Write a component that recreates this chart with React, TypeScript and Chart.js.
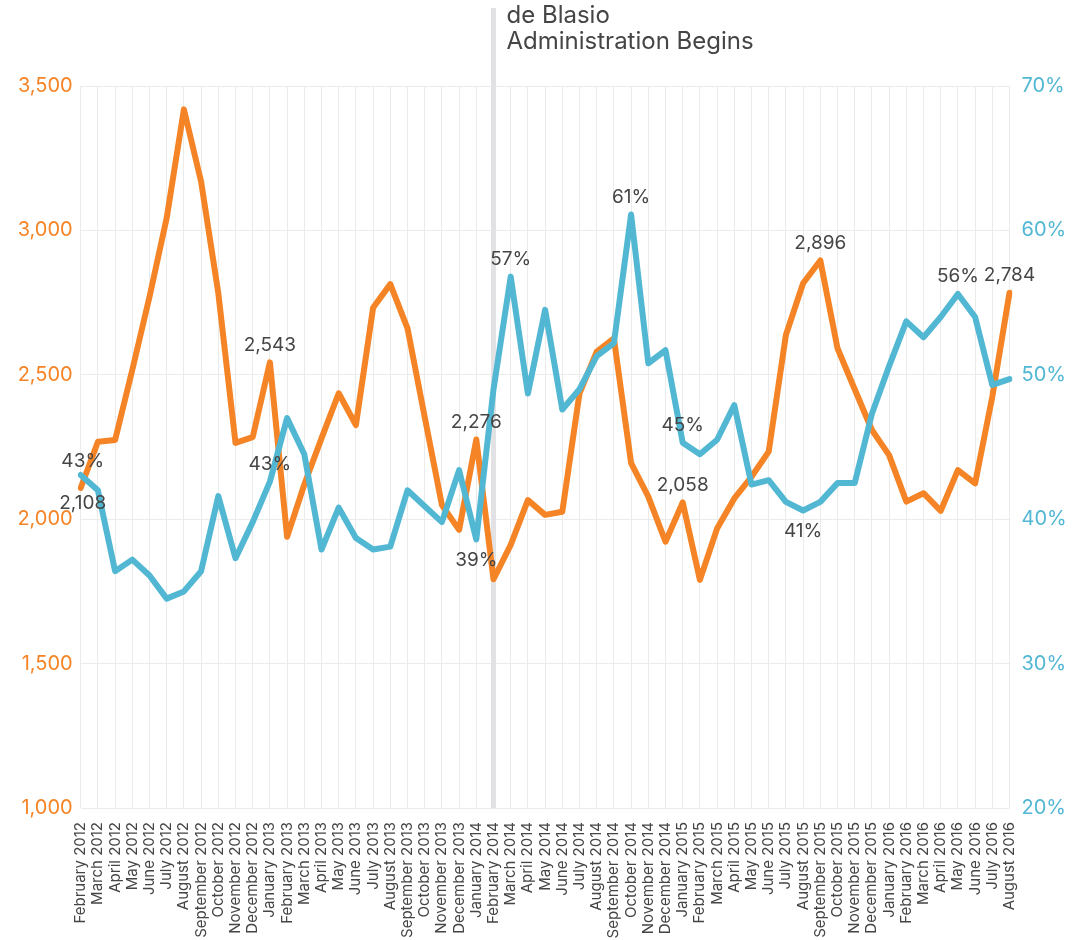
import React, { useEffect, useRef } from "react";
import { Chart, registerables } from "chart.js";

Chart.register(...registerables);

const months = [
  "February 2012", "March 2012", "April 2012", "May 2012", "June 2012", "July 2012",
  "August 2012", "September 2012", "October 2012", "November 2012", "December 2012",
  "January 2013", "February 2013", "March 2013", "April 2013", "May 2013", "June 2013",
  "July 2013", "August 2013", "September 2013", "October 2013", "November 2013", "December 2013",
  "January 2014", "February 2014", "March 2014", "April 2014", "May 2014", "June 2014",
  "July 2014", "August 2014", "September 2014", "October 2014", "November 2014", "December 2014",
  "January 2015", "February 2015", "March 2015", "April 2015", "May 2015", "June 2015",
  "July 2015", "August 2015", "September 2015", "October 2015", "November 2015", "December 2015",
  "January 2016", "February 2016", "March 2016", "April 2016", "May 2016", "June 2016",
  "July 2016", "August 2016",
];

// orange series (left axis)
const counts = [
  2108, 2268, 2274, 2517, 2770, 3043, 3419, 3169, 2783, 2264, 2284,
  2543, 1939, 2120, 2280, 2436, 2326, 2732, 2814, 2661, 2354, 2049, 1963,
  2276, 1792, 1911, 2066, 2015, 2026, 2436, 2580, 2626, 2194, 2078, 1922,
  2058, 1790, 1968, 2072, 2147, 2234, 2638, 2817, 2896, 2592, 2450, 2309,
  2222, 2061, 2090, 2029, 2170, 2124, 2424, 2784,
];

// blue series (right axis, %)
const rates = [
  43.06, 42.0, 36.4, 37.2, 36.1, 34.5, 35.0, 36.4, 41.6, 37.3, 39.8,
  42.6, 47.0, 44.5, 37.9, 40.8, 38.7, 37.9, 38.1, 42.0, 40.9, 39.8, 43.4,
  38.6, 49.0, 56.8, 48.7, 54.5, 47.6, 49.0, 51.3, 52.2, 61.1, 50.8, 51.7,
  45.3, 44.5, 45.5, 47.9, 42.4, 42.7, 41.2, 40.6, 41.2, 42.5, 42.5, 47.3,
  50.6, 53.7, 52.6, 54.0, 55.6, 54.0, 49.3, 49.7,
];

const leftMin = 1000;
const leftMax = 3500;
const leftStep = 500;
const rightMin = 20;
const rightMax = 70;
const rightStep = 10;

// annotated points: [index, placement]
const countLabels: [number, "above" | "below"][] = [
  [0, "below"], [11, "above"], [23, "above"], [35, "above"], [43, "above"], [54, "above"],
];
const rateLabels: [number, "above" | "below"][] = [
  [0, "above"], [11, "above"], [23, "below"], [25, "above"], [32, "above"],
  [35, "above"], [42, "below"], [51, "above"],
];

const eventIndex = 24;
const eventLines = ["de Blasio", "Administration Begins"];

const ORANGE = "#f58426";
const BLUE = "#52b7d3";
const FONT = "Inter, 'Open Sans', sans-serif";
const TEXT = "#454545";
const GRID = "#ebebeb";

const fmtCount = (v: number) => Math.round(v).toLocaleString("en-US");
const fmtRate = (v: number) => `${Math.round(v)}%`;

const labelPlugin = {
  id: "pointLabels",
  afterDatasetsDraw(chart: any) {
    const { ctx } = chart;
    ctx.save();
    ctx.font = `19px ${FONT}`;
    ctx.fillStyle = TEXT;
    ctx.textAlign = "center";
    ctx.textBaseline = "middle";
    const draw = (dsIndex: number, list: [number, string][], fmt: (v: number) => string, values: number[]) => {
      const meta = chart.getDatasetMeta(dsIndex);
      list.forEach(([i, pos]) => {
        const pt = meta.data[i];
        if (!pt) return;
        const edge = i === 0;
        const dy = pos === "above" ? (edge ? -14 : -17.5) : (edge ? 15 : 21);
        const dx = edge ? 2 : 0;
        ctx.fillText(fmt(values[i]), pt.x + dx, pt.y + dy);
      });
    };
    draw(0, countLabels, fmtCount, counts);
    draw(1, rateLabels, fmtRate, rates);
    ctx.restore();
  },
};

const eventPlugin = {
  id: "eventLine",
  beforeDatasetsDraw(chart: any) {
    const { ctx, chartArea, scales } = chart;
    const x = scales.x.getPixelForValue(eventIndex);
    ctx.save();
    ctx.strokeStyle = "#e2e2e4";
    ctx.lineWidth = 5;
    ctx.beginPath();
    ctx.moveTo(x, 8);
    ctx.lineTo(x, chartArea.bottom);
    ctx.stroke();
    ctx.fillStyle = TEXT;
    ctx.font = `24px ${FONT}`;
    ctx.textAlign = "left";
    ctx.textBaseline = "middle";
    ctx.fillText(eventLines[0], x + 13, 16);
    ctx.fillText(eventLines[1], x + 13, 42);
    ctx.restore();
  },
};

export default function App() {
  const ref = useRef<HTMLCanvasElement | null>(null);

  useEffect(() => {
    if (!ref.current) return;
    const chart = new Chart(ref.current, {
      type: "line",
      data: {
        labels: months,
        datasets: [
          {
            label: "Count",
            data: counts,
            yAxisID: "y",
            borderColor: ORANGE,
            backgroundColor: ORANGE,
            borderWidth: 6,
            pointRadius: 0,
            tension: 0,
            borderJoinStyle: "round",
            borderCapStyle: "round",
            order: 1,
          },
          {
            label: "Rate",
            data: rates,
            yAxisID: "y1",
            borderColor: BLUE,
            backgroundColor: BLUE,
            borderWidth: 6,
            pointRadius: 0,
            tension: 0,
            borderJoinStyle: "round",
            borderCapStyle: "round",
            order: 0,
          },
        ],
      },
      options: {
        responsive: false,
        animation: false,
        layout: { padding: { top: 86, left: 0, right: 0, bottom: 0 } },
        plugins: { legend: { display: false }, tooltip: { enabled: false } },
        scales: {
          x: {
            grid: { color: GRID, lineWidth: 1, drawTicks: false },
            border: { display: false },
            ticks: {
              autoSkip: false,
              maxRotation: 90,
              minRotation: 90,
              padding: 14,
              color: TEXT,
              font: { family: FONT, size: 15 },
            },
            afterFit: (s: any) => { s.height = 132; },
          },
          y: {
            position: "left",
            min: leftMin,
            max: leftMax,
            grid: { color: GRID, lineWidth: 1, drawTicks: false },
            border: { display: false },
            ticks: {
              stepSize: leftStep,
              padding: 8,
              color: ORANGE,
              font: { family: FONT, size: 20 },
              callback: (v: any) => fmtCount(Number(v)),
            },
            afterFit: (s: any) => { s.width = 80.7; },
          },
          y1: {
            position: "right",
            min: rightMin,
            max: rightMax,
            grid: { display: false, drawTicks: false },
            border: { display: false },
            ticks: {
              stepSize: rightStep,
              padding: 12,
              color: BLUE,
              font: { family: FONT, size: 20 },
              callback: (v: any) => `${v}%`,
            },
            afterFit: (s: any) => { s.width = 69.5; },
          },
        },
      },
      plugins: [eventPlugin, labelPlugin],
    });
    return () => chart.destroy();
  }, []);

  return (
    <div style={{ position: "fixed", left: 0, top: 0, width: 1079, height: 940, background: "#fff" }}>
      <canvas ref={ref} width={1079} height={940} style={{ display: "block", width: 1079, height: 940 }} />
    </div>
  );
}
